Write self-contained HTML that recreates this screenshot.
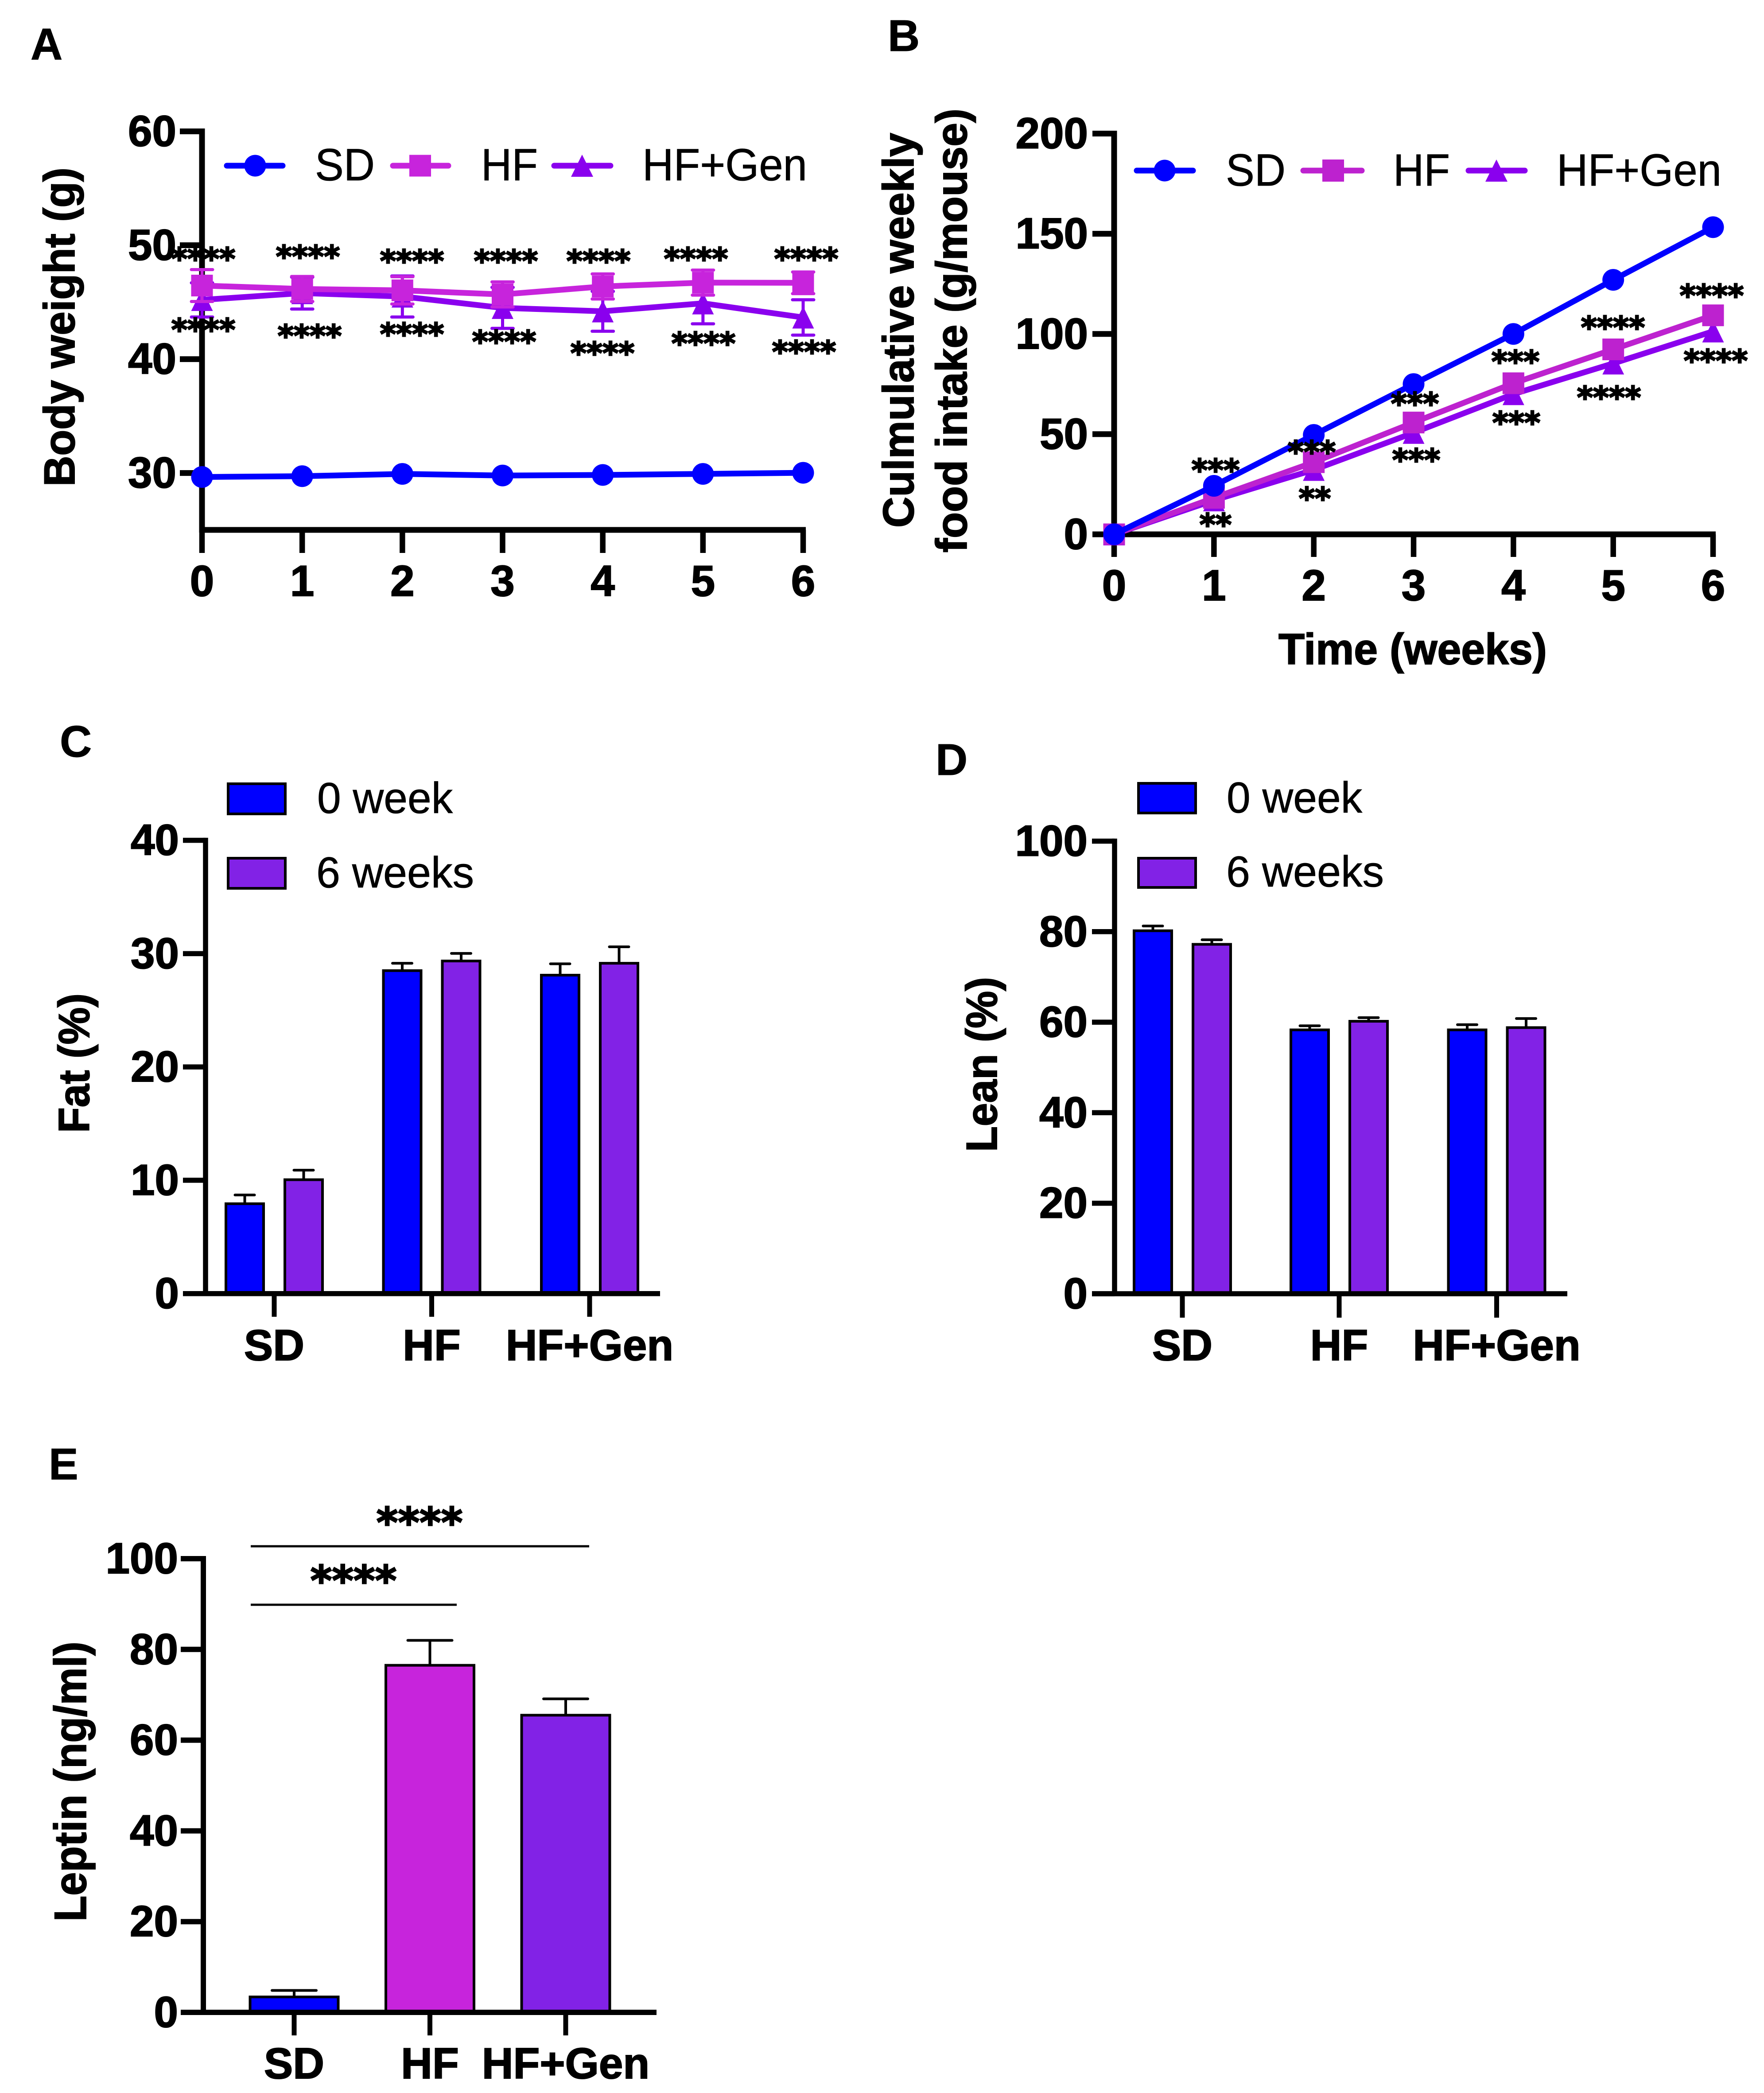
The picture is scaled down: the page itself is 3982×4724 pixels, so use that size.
<!DOCTYPE html>
<html lang="en">
<head>
<meta charset="utf-8">
<title>Body weight, food intake, body composition and leptin</title>
<style>
html,body{margin:0;padding:0;background:#fff;}
svg{display:block;}
text{font-family:"Liberation Sans",Arial,sans-serif;fill:#000;}
.b{font-weight:700;font-size:98px;stroke:#000;stroke-width:2px;}
.r{font-weight:400;font-size:102px;stroke:#000;stroke-width:0.8px;}
.lg{font-weight:400;font-size:98px;stroke:#000;stroke-width:0.8px;}
.letter{font-weight:700;font-size:100px;stroke:#000;stroke-width:1px;}
.st{font-family:"DejaVu Sans","Liberation Sans",sans-serif;font-weight:700;font-size:69px;text-anchor:middle;stroke:#000;stroke-width:3px;}
.stl{font-family:"DejaVu Sans","Liberation Sans",sans-serif;font-weight:700;font-size:93px;text-anchor:middle;stroke:#000;stroke-width:3px;}
</style>
</head>
<body>
<svg xmlns="http://www.w3.org/2000/svg" width="3982" height="4724" viewBox="0 0 3982 4724">
<rect x="0" y="0" width="3982" height="4724" fill="#fff"/>

<!-- Panel A -->
<g>
  <text class="letter" x="69" y="134">A</text>
  <text class="b" transform="translate(168,1098) rotate(-90)" textLength="720" lengthAdjust="spacingAndGlyphs">Body weight (g)</text>
  <g id="a-plot"></g>
  <g>
    <line x1="512" x2="638" y1="374" y2="374" stroke="#0000ff" stroke-width="13" stroke-linecap="round"/>
    <circle cx="576" cy="374" r="24.5" fill="#0000ff"/>
    <text class="r" x="711" y="407" textLength="135" lengthAdjust="spacingAndGlyphs">SD</text>
    <line x1="887" x2="1012" y1="374" y2="374" stroke="#c724dc" stroke-width="13" stroke-linecap="round"/>
    <rect x="924" y="349.5" width="49" height="49" fill="#c724dc"/>
    <text class="r" x="1086" y="407" textLength="128" lengthAdjust="spacingAndGlyphs">HF</text>
    <line x1="1251" x2="1378" y1="374" y2="374" stroke="#8a00ee" stroke-width="13" stroke-linecap="round"/>
    <polygon points="1314,349 1339,399 1289,399" fill="#8a00ee"/>
    <text class="r" x="1450" y="407" textLength="372" lengthAdjust="spacingAndGlyphs">HF+Gen</text>
  </g>
  <g>
    <text class="st" x="459" y="608">****</text>
    <text class="st" x="695" y="603">****</text>
    <text class="st" x="930" y="613">****</text>
    <text class="st" x="1142" y="613">****</text>
    <text class="st" x="1351" y="613">****</text>
    <text class="st" x="1571" y="608">****</text>
    <text class="st" x="1820" y="608">****</text>
    <text class="st" x="459" y="768">****</text>
    <text class="st" x="699" y="782">****</text>
    <text class="st" x="930" y="778">****</text>
    <text class="st" x="1138" y="795">****</text>
    <text class="st" x="1360" y="821">****</text>
    <text class="st" x="1588" y="799">****</text>
    <text class="st" x="1815" y="818">****</text>
  </g>
</g>

<!-- Panel B -->
<g>
  <text class="letter" x="2004" y="115">B</text>
  <text class="b" transform="translate(2062,1191) rotate(-90)" textLength="891" lengthAdjust="spacingAndGlyphs">Culmulative weekly</text>
  <text class="b" transform="translate(2182,1247) rotate(-90)" textLength="1002" lengthAdjust="spacingAndGlyphs">food intake (g/mouse)</text>
  <text class="b" x="2886" y="1499" textLength="606" lengthAdjust="spacingAndGlyphs">Time (weeks)</text>
  <g id="b-plot"></g>
  <g>
    <line x1="2566" x2="2693" y1="385" y2="385" stroke="#0000ff" stroke-width="13" stroke-linecap="round"/>
    <circle cx="2629" cy="385" r="24.5" fill="#0000ff"/>
    <text class="r" x="2767" y="419" textLength="135" lengthAdjust="spacingAndGlyphs">SD</text>
    <line x1="2942" x2="3074" y1="385" y2="385" stroke="#bd22cf" stroke-width="13" stroke-linecap="round"/>
    <rect x="2985" y="360" width="49" height="50" fill="#bd22cf"/>
    <text class="r" x="3145" y="419" textLength="128" lengthAdjust="spacingAndGlyphs">HF</text>
    <line x1="3315" x2="3442" y1="385" y2="385" stroke="#8a00ee" stroke-width="13" stroke-linecap="round"/>
    <polygon points="3378,360 3403,410 3353,410" fill="#8a00ee"/>
    <text class="r" x="3514" y="419" textLength="372" lengthAdjust="spacingAndGlyphs">HF+Gen</text>
  </g>
  <g>
    <text class="st" x="2744" y="1085">***</text>
    <text class="st" x="2961" y="1044">***</text>
    <text class="st" x="3194" y="935">***</text>
    <text class="st" x="3421" y="840">***</text>
    <text class="st" x="3641" y="763">****</text>
    <text class="st" x="3864" y="691">****</text>
    <text class="st" x="2744" y="1208">**</text>
    <text class="st" x="2968" y="1149">**</text>
    <text class="st" x="3197" y="1062">***</text>
    <text class="st" x="3423" y="978">***</text>
    <text class="st" x="3632" y="921">****</text>
    <text class="st" x="3873" y="838">****</text>
  </g>
</g>

<!-- Panel C -->
<g>
  <text class="letter" x="135" y="1708">C</text>
  <text class="b" transform="translate(201,2557) rotate(-90)" textLength="315" lengthAdjust="spacingAndGlyphs">Fat (%)</text>
  <g id="c-plot"></g>
  <g>
    <rect x="515" y="1769" width="129" height="68" fill="#0000ff" stroke="#000" stroke-width="6"/>
    <text class="lg" x="716" y="1835" textLength="306" lengthAdjust="spacingAndGlyphs">0 week</text>
    <rect x="515" y="1937" width="129" height="68" fill="#8222e6" stroke="#000" stroke-width="6"/>
    <text class="lg" x="714" y="2003" textLength="356" lengthAdjust="spacingAndGlyphs">6 weeks</text>
  </g>
</g>

<!-- Panel D -->
<g>
  <text class="letter" x="2112" y="1749">D</text>
  <text class="b" transform="translate(2250,2600) rotate(-90)" textLength="395" lengthAdjust="spacingAndGlyphs">Lean (%)</text>
  <g id="d-plot"></g>
  <g>
    <rect x="2570" y="1768" width="129" height="67" fill="#0000ff" stroke="#000" stroke-width="6"/>
    <text class="lg" x="2769" y="1834" textLength="306" lengthAdjust="spacingAndGlyphs">0 week</text>
    <rect x="2570" y="1937" width="129" height="66" fill="#8222e6" stroke="#000" stroke-width="6"/>
    <text class="lg" x="2768" y="2001" textLength="356" lengthAdjust="spacingAndGlyphs">6 weeks</text>
  </g>
</g>

<!-- Panel E -->
<g>
  <text class="letter" x="110" y="3339">E</text>
  <text class="b" style="font-size:102px" transform="translate(194,4337) rotate(-90)" textLength="632" lengthAdjust="spacingAndGlyphs">Leptin (ng/ml)</text>
  <g id="e-plot"></g>
  <g>
    <line x1="566" x2="1330" y1="3490" y2="3490" stroke="#000" stroke-width="5"/>
    <line x1="566" x2="1031" y1="3622" y2="3622" stroke="#000" stroke-width="5"/>
    <text class="stl" x="947" y="3469">****</text>
    <text class="stl" x="798" y="3600">****</text>
  </g>
</g>

<script>
// ---- Panel A data: body weight (g)
const weeks = [0, 1, 2, 3, 4, 5, 6];
const bodySD = [29.65, 29.72, 29.92, 29.78, 29.83, 29.92, 30.02];
const bodyHF = [46.46, 46.16, 46.04, 45.68, 46.38, 46.72, 46.7];
const bodyGen = [45.2, 45.8, 45.5, 44.5, 44.2, 44.9, 43.66];
const bodyHFErr = [1.4, 1.1, 1.2, 1.1, 1.1, 1.1, 0.95];
const bodyGenErr = [1.5, 1.4, 1.8, 1.8, 1.75, 1.8, 1.55];
const bodyTicks = [30, 40, 50, 60];
// ---- Panel B data: cumulative food intake (g/mouse)
const foodSD = [0, 24.2, 49.6, 75, 100, 127, 153.3];
const foodHF = [0, 18.2, 36, 55.8, 75.4, 92.3, 109.3];
const foodGen = [0, 17, 32.2, 50.7, 70, 85.3, 101.3];
const foodTicks = [0, 50, 100, 150, 200];
// ---- Panels C, D: body composition (%)
const groups = ['SD', 'HF', 'HF+Gen'];
const fatWeek0 = [7.93, 28.5, 28.1];
const fatWeek6 = [10.05, 29.35, 29.15];
const fatWeek0Err = [0.77, 0.65, 1.0];
const fatWeek6Err = [0.84, 0.67, 1.45];
const fatTicks = [0, 10, 20, 30, 40];
const leanWeek0 = [80.2, 58.3, 58.3];
const leanWeek6 = [77.2, 60.2, 58.8];
const leanWeek0Err = [1.05, 0.9, 1.15];
const leanWeek6Err = [1.0, 0.8, 2.0];
const leanTicks = [0, 20, 40, 60, 80, 100];
// ---- Panel E: leptin (ng/ml)
const leptin = [3.4, 76.5, 65.5];
const leptinErr = [1.43, 5.5, 3.6];
const leptinTicks = [0, 20, 40, 60, 80, 100];

const NS = 'http://www.w3.org/2000/svg';
const BLUE = '#0000ff', MAGENTA = '#c724dc', MAGENTA_B = '#bd22cf', VIOLET = '#8a00ee', BARVIOLET = '#8222e6';

function mk(tag, attrs, parent) {
  const el = document.createElementNS(NS, tag);
  for (const k in attrs) el.setAttribute(k, attrs[k]);
  parent.appendChild(el);
  return el;
}
function linear(d0, d1, r0, r1) {
  return v => r0 + (v - d0) * (r1 - r0) / (d1 - d0);
}
function drawYAxis(parent, y, ticks, axisX, tickLeft, labelRight, bottomY, sw) {
  const top = Math.min.apply(null, ticks.map(y)) - sw / 2;
  const axis = mk('line', {x1: axisX, x2: axisX, y1: top, y2: bottomY, stroke: '#000', 'stroke-width': sw}, parent);
  
  
  ticks.forEach(t => {
    const tick = mk('line', {x1: tickLeft, x2: axisX, y1: y(t), y2: y(t), stroke: '#000', 'stroke-width': sw}, parent);
    
    
    const lab = mk('text', {x: labelRight, y: y(t) + 33, 'text-anchor': 'end', 'class': 'b'}, parent);
    lab.textContent = String(t);
    
    
  });
}
function drawXAxisLine(parent, x0, x1, axisY, sw) {
  const axis = mk('line', {x1: x0, x2: x1, y1: axisY, y2: axisY, stroke: '#000', 'stroke-width': sw}, parent);
  
  
}
function drawXTick(parent, px, axisY, tickBottom, labelText, baseline, sw) {
  const tick = mk('line', {x1: px, x2: px, y1: axisY, y2: tickBottom, stroke: '#000', 'stroke-width': sw}, parent);
  
  
  const lab = mk('text', {x: px, y: baseline, 'text-anchor': 'middle', 'class': 'b'}, parent);
  lab.textContent = labelText;
  
  
}
function drawErr(parent, px, yFrom, yTo, halfCap, color, stemW, capW) {
  const stem = mk('line', {x1: px, x2: px, y1: yFrom, y2: yTo, stroke: color, 'stroke-width': stemW}, parent);
  
  
  const cap = mk('line', {x1: px - halfCap, x2: px + halfCap, y1: yTo, y2: yTo, stroke: color, 'stroke-width': capW, 'stroke-linecap': 'round'}, parent);
  
  
}
function drawSeries(parent, xs, vals, errs, color, shape, x, y, seriesName) {
  if (errs) {
    vals.forEach((v, i) => {
      drawErr(parent, x(xs[i]), y(v), y(v + errs[i]), 24, color, 7, 7);
      drawErr(parent, x(xs[i]), y(v), y(v - errs[i]), 24, color, 7, 7);
    });
  }
  const line = mk('polyline', {points: vals.map((v, i) => x(xs[i]) + ',' + y(v)).join(' '), fill: 'none', stroke: color, 'stroke-width': 13, 'stroke-linejoin': 'round'}, parent);
  
  
  vals.forEach((v, i) => {
    const px = x(xs[i]), py = y(v);
    let m;
    if (shape === 'circle') {
      m = mk('circle', {cx: px, cy: py, r: 24.5, fill: color}, parent);
    } else if (shape === 'square') {
      m = mk('rect', {x: px - 24.5, y: py - 24.5, width: 49, height: 49, fill: color}, parent);
    } else {
      m = mk('polygon', {points: px + ',' + (py - 25) + ' ' + (px + 24.5) + ',' + (py + 25) + ' ' + (px - 24.5) + ',' + (py + 25), fill: color}, parent);
    }
    
    
  });
}
function drawBar(parent, cx, w, v, err, color, y, capHalf, barName) {
  drawErr(parent, cx, y(v), y(v + err), capHalf, '#000', 6, 6);
  const r = mk('rect', {x: cx - w / 2, y: y(v), width: w, height: y(0) - y(v), fill: color, stroke: '#000', 'stroke-width': 6}, parent);
  
  
}

// Panel A
(function () {
  const g = document.getElementById('a-plot');
  const x = linear(0, 6, 456, 1813);
  const y = linear(30, 60, 1067.6, 296.5);
  drawYAxis(g, y, bodyTicks, 456, 406, 398, 1202, 13);
  drawXAxisLine(g, 450, 1819, 1196, 13);
  weeks.forEach(w => drawXTick(g, x(w), 1196, 1248, String(w), 1345, 12.5));
  drawSeries(g, weeks, bodySD, null, BLUE, 'circle', x, y, 'sd');
  drawSeries(g, weeks, bodyGen, bodyGenErr, VIOLET, 'triangle', x, y, 'hf-gen');
  drawSeries(g, weeks, bodyHF, bodyHFErr, MAGENTA, 'square', x, y, 'hf');
})();

// Panel B: SD is painted last, so it sits on top of the other series
(function () {
  const g = document.getElementById('b-plot');
  const x = linear(0, 6, 2515, 3867);
  const y = linear(0, 200, 1206, 301.5);
  drawYAxis(g, y, foodTicks, 2515, 2466, 2456, 1212, 13);
  drawXAxisLine(g, 2509, 3873, 1206, 13);
  weeks.forEach(w => drawXTick(g, x(w), 1206, 1257, String(w), 1355, 12.5));
  drawSeries(g, weeks, foodGen, null, VIOLET, 'triangle', x, y, 'hf-gen');
  drawSeries(g, weeks, foodHF, null, MAGENTA_B, 'square', x, y, 'hf');
  drawSeries(g, weeks, foodSD, null, BLUE, 'circle', x, y, 'sd');
})();

// Grouped bars (C, D)
function drawGrouped(id, ticks, d0, d1, e0, e1, y0, yTop, topV, axisX, tickLeft, labelRight, axisEnd, centers, tickBottom, baseline) {
  const g = document.getElementById(id);
  const y = linear(0, topV, y0, yTop);
  groups.forEach((name, i) => {
    drawBar(g, centers[i] - 66.5, 85, d0[i], e0[i], BLUE, y, 22, 'bar-' + name + '-0-week');
    drawBar(g, centers[i] + 66.5, 85, d1[i], e1[i], BARVIOLET, y, 22, 'bar-' + name + '-6-weeks');
  });
  drawYAxis(g, y, ticks, axisX, tickLeft, labelRight, y0, 11.5);
  drawXAxisLine(g, tickLeft, axisEnd, y0, 11.5);
  groups.forEach((name, i) => drawXTick(g, centers[i], y0, tickBottom, name, baseline, 11));
}
drawGrouped('c-plot', fatTicks, fatWeek0, fatWeek6, fatWeek0Err, fatWeek6Err, 2919.7, 1896.6, 40, 464, 413, 404, 1490, [619, 974.5, 1331], 2972, 3070);
drawGrouped('d-plot', leanTicks, leanWeek0, leanWeek6, leanWeek0Err, leanWeek6Err, 2920, 1898.5, 100, 2516, 2465, 2455, 3538, [2669, 3023, 3378.5], 2974, 3070);

// Panel E
(function () {
  const g = document.getElementById('e-plot');
  const y = linear(0, 100, 4542, 3518);
  const centers = [664, 970.5, 1277];
  const colors = [BLUE, MAGENTA, BARVIOLET];
  groups.forEach((name, i) => {
    drawBar(g, centers[i], 199, leptin[i], leptinErr[i], colors[i], y, 50, 'bar-' + name);
  });
  drawYAxis(g, y, leptinTicks, 459, 408, 402, 4542, 12);
  drawXAxisLine(g, 408, 1482, 4542, 12);
  groups.forEach((name, i) => drawXTick(g, centers[i], 4542, 4594, name, 4691, 11));
})();
</script>
</svg>
</body>
</html>
